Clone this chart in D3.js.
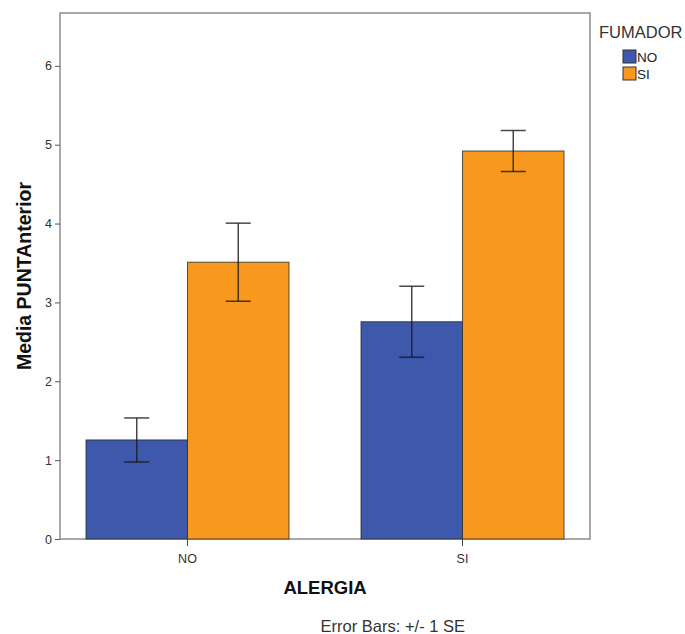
<!DOCTYPE html>
<html><head><meta charset="utf-8">
<script src="https://cdn.jsdelivr.net/npm/d3@7"></script>
<style>body{margin:0;background:#fff;} text{font-family:"Liberation Sans",Arial,sans-serif;}</style>
</head><body>
<script>
const categories = ["NO","SI"];           // ALERGIA
const series = ["NO","SI"];               // FUMADOR
const meanNO = [1.256, 2.755];            // FUMADOR = NO
const meanSI = [3.51, 4.92];              // FUMADOR = SI
const seNO = [0.279, 0.45];
const seSI = [0.495, 0.26];
const yTicks = [0,1,2,3,4,5,6];
const colors = ["#3e58ab", "#f8981e"];

const W = 685, H = 634;
const m = {left:60, right:95, top:13, bottom:95};
const x0 = m.left, x1 = W - m.right, y0 = H - m.bottom, y1 = m.top;

const svg = d3.select("body").append("svg").attr("width", W).attr("height", H);

const y = d3.scaleLinear().domain([0, 6.67]).range([y0, y1]);
const xc = d3.scaleBand().domain(categories).range([x0, x1]).paddingInner(0.2618).paddingOuter(0.0945);
const xs = d3.scaleBand().domain(series).range([0, xc.bandwidth()]);

const means = [meanNO, meanSI], ses = [seNO, seSI];
const data = [];
categories.forEach((c, i) => series.forEach((s, j) => data.push({c, s, j, v: means[j][i], se: ses[j][i]})));

// frame
svg.append("rect").attr("x", x0).attr("y", y1).attr("width", x1 - x0).attr("height", y0 - y1)
  .attr("fill", "none").attr("stroke", "#8c8c8c").attr("stroke-width", 1.5);

// bars
svg.selectAll("rect.bar").data(data).join("rect").attr("class","bar")
  .attr("x", d => xc(d.c) + xs(d.s)).attr("width", xs.bandwidth())
  .attr("y", d => y(d.v)).attr("height", d => y(0) - y(d.v))
  .attr("fill", d => colors[d.j]).attr("stroke", "#2a2a2a").attr("stroke-opacity", 0.8).attr("stroke-width", 1);

// error bars
const eb = svg.selectAll("g.eb").data(data).join("g").attr("class","eb")
  .attr("stroke", "#1a1a1a").attr("stroke-opacity", 0.8).attr("stroke-width", 1.5);
eb.append("line").attr("x1", d => xc(d.c) + xs(d.s) + xs.bandwidth()/2).attr("x2", d => xc(d.c) + xs(d.s) + xs.bandwidth()/2)
  .attr("y1", d => y(d.v + d.se)).attr("y2", d => y(d.v - d.se));
[1, -1].forEach(sg => {
  eb.append("line").attr("x1", d => xc(d.c) + xs(d.s) + xs.bandwidth()/2 - 12.5).attr("x2", d => xc(d.c) + xs(d.s) + xs.bandwidth()/2 + 12.5)
    .attr("y1", d => y(d.v + sg*d.se)).attr("y2", d => y(d.v + sg*d.se));
});

// y axis
const ya = svg.append("g").attr("transform", `translate(${x0},0)`)
  .call(d3.axisLeft(y).tickValues(yTicks).tickSize(5).tickPadding(3).tickFormat(d3.format("d")));
ya.select(".domain").remove();
ya.selectAll("line").attr("stroke", "#555");
ya.selectAll("text").attr("fill", "#333").style("font-size", "12.5px").style("font-family", '"Liberation Sans",Arial,sans-serif');

// x axis
const xa = svg.append("g").attr("transform", `translate(0,${y0})`)
  .call(d3.axisBottom(xc).tickSize(7).tickPadding(8));
xa.select(".domain").remove();
xa.selectAll("line").attr("stroke", "#444");
xa.selectAll("text").attr("fill", "#333").style("font-size", "12.5px").style("font-family", '"Liberation Sans",Arial,sans-serif');

// titles
svg.append("text").attr("x", (x0 + x1)/2).attr("y", 594).attr("text-anchor", "middle")
  .attr("font-weight", "bold").attr("font-size", 18.5).attr("fill", "#111").text("ALERGIA");
svg.append("text").attr("transform", `translate(31,${(y0 + y1)/2}) rotate(-90)`).attr("text-anchor", "middle")
  .attr("font-weight", "bold").attr("font-size", 19.5).attr("fill", "#111").text("Media PUNTAnterior");
svg.append("text").attr("x", 465).attr("y", 632).attr("text-anchor", "end")
  .attr("font-size", 16.5).attr("fill", "#333").text("Error Bars: +/- 1 SE");

// legend
svg.append("text").attr("x", 599).attr("y", 38).attr("font-size", 16.5).attr("fill", "#333").text("FUMADOR");
const lg = svg.selectAll("g.lg").data(series).join("g").attr("class","lg")
  .attr("transform", (d, i) => `translate(623,${50 + i*17})`);
lg.append("rect").attr("width", 13).attr("height", 13).attr("fill", (d, i) => colors[i]).attr("stroke", "#333").attr("stroke-width", 1);
lg.append("text").attr("x", 14).attr("y", 12).attr("font-size", 13.5).attr("fill", "#222").text(d => d);
</script>
</body></html>
